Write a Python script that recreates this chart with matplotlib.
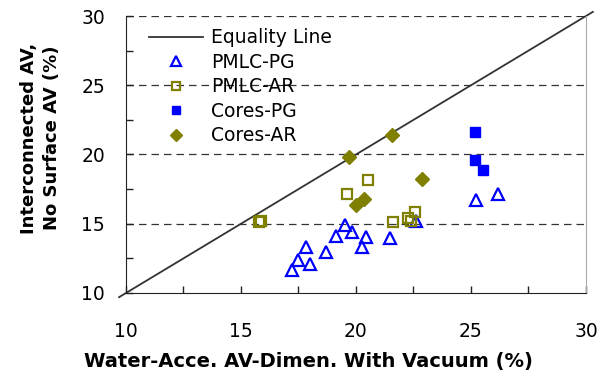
import matplotlib
matplotlib.use("Agg")
import matplotlib.pyplot as plt
from matplotlib.ticker import MultipleLocator

plt.rcParams["font.family"] = ["DejaVu Sans"]

# Air-void measurements (%): x = water-accessible AV (dimensional, vacuum),
# y = interconnected AV without surface voids
pmlc_pg_x = [17.23, 17.50, 17.82, 18.01, 18.69, 19.13, 19.53, 19.83, 20.26, 20.44,
             21.47, 22.63, 25.23, 26.19]
pmlc_pg_y = [11.66, 12.38, 13.30, 12.09, 12.99, 14.14, 14.92, 14.39, 13.30, 14.03,
             13.98, 15.23, 16.73, 17.17]

pmlc_ar_x = [15.80, 15.85, 19.61, 20.52, 21.61, 22.25, 22.39, 22.56]
pmlc_ar_y = [15.16, 15.20, 17.14, 18.18, 15.12, 15.40, 15.23, 15.84]

cores_pg_x = [25.19, 25.19, 25.52]
cores_pg_y = [21.64, 19.63, 18.91]

cores_ar_x = [19.71, 20.01, 20.33, 21.57, 22.88]
cores_ar_y = [19.83, 16.37, 16.80, 21.39, 18.25]

equality = [9.7, 30.3]

x_ticks = [10, 15, 20, 25, 30]
y_ticks = [10, 15, 20, 25, 30]

BLUE = "#0000FF"
OLIVE = "#808000"
FS = 13.5

fig = plt.figure(figsize=(6.02, 3.81), dpi=100)
ax = fig.add_axes([0.2093, 0.231, 0.9734 - 0.2093, 0.958 - 0.231])

for yv in [15, 20, 25, 30]:
    ax.axhline(yv, color="#333333", lw=0.9, ls=(0, (6, 4)), zorder=1)

ax.plot(equality, equality, color="#333333", lw=1.3, clip_on=False,
        label="Equality Line", zorder=2)
ax.plot(pmlc_pg_x, pmlc_pg_y, ls="none", marker="^", ms=9, mfc="none",
        mec=BLUE, mew=1.6, label="PMLC-PG", zorder=3)
ax.plot(pmlc_ar_x, pmlc_ar_y, ls="none", marker="s", ms=7.5, mfc="none",
        mec=OLIVE, mew=1.6, label="PMLC-AR", zorder=3)
ax.plot(cores_pg_x, cores_pg_y, ls="none", marker="s", ms=7.5, mfc=BLUE,
        mec=BLUE, mew=1, label="Cores-PG", zorder=3)
ax.plot(cores_ar_x, cores_ar_y, ls="none", marker="D", ms=7, mfc=OLIVE,
        mec=OLIVE, mew=1, label="Cores-AR", zorder=3)

ax.set_xlim(10, 30)
ax.set_ylim(10, 30)
ax.set_xticks(x_ticks)
ax.set_yticks(y_ticks)
ax.xaxis.set_minor_locator(MultipleLocator(2.5))
ax.yaxis.set_minor_locator(MultipleLocator(2.5))
ax.tick_params(which="both", direction="in", length=5, width=1, labelsize=FS,
               top=False, right=False, color="#222222")
ax.tick_params(axis="x", pad=21)
ax.tick_params(axis="y", pad=15)

ax.spines["top"].set_visible(False)
ax.spines["right"].set_color("#aaaaaa")
ax.spines["left"].set_color("#222222")
ax.spines["bottom"].set_color("#222222")

ax.set_xlabel("Water-Acce. AV-Dimen. With Vacuum (%)", fontsize=14,
              fontweight="bold", labelpad=8)
ax.xaxis.label.set_x(0.396)
ax.set_ylabel("Interconnected AV,\nNo Surface AV (%)", fontsize=13,
              fontweight="bold", labelpad=15, linespacing=1.35)
ax.yaxis.label.set_y(0.56)

leg = ax.legend(loc="upper left", frameon=False, fontsize=FS, markerscale=0.85,
                handlelength=2.9, handletextpad=0.42, labelspacing=0.29,
                borderpad=0, borderaxespad=0, bbox_to_anchor=(0.05, 0.955))

fig.savefig("out.png", dpi=100)
